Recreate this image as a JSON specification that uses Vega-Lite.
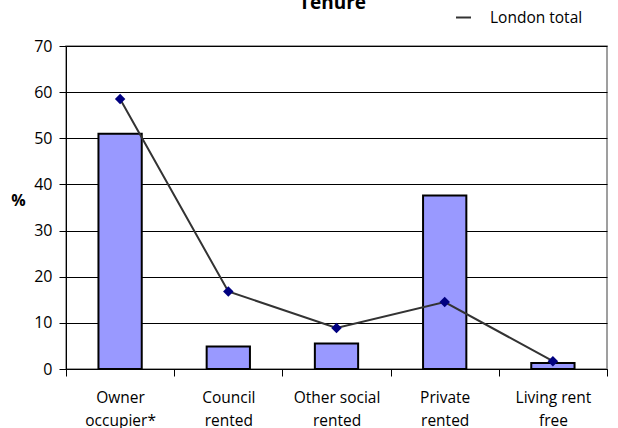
{
  "$schema": "https://vega.github.io/schema/vega-lite/v6.json",
  "width": 541,
  "height": 323,
  "autosize": {"type": "none"},
  "padding": {"left": 66, "top": 46, "right": 11, "bottom": 59},
  "background": "white",
  "title": {"text": "Tenure", "fontSize": 19, "fontWeight": "bold", "font": "Open Sans", "color": "black", "anchor": "middle", "baseline": "top", "offset": 0, "dy": 4, "dx": -4},
  "config": {
    "font": "Open Sans",
    "view": {"stroke": "#808080", "strokeWidth": 1.5},
    "axis": {"labelColor": "black", "labelFont": "Open Sans", "domainColor": "black", "tickColor": "black", "titleColor": "black"}
  },
  "data": {"values": [
    {"tenure": "Owner occupier*", "pct": 51.0, "london": 58.5},
    {"tenure": "Council rented", "pct": 4.9, "london": 16.8},
    {"tenure": "Other social rented", "pct": 5.5, "london": 8.9},
    {"tenure": "Private rented", "pct": 37.6, "london": 14.5},
    {"tenure": "Living rent free", "pct": 1.3, "london": 1.7}
  ]},
  "encoding": {
    "x": {"field": "tenure", "type": "nominal", "sort": null,
      "scale": {"paddingInner": 0, "paddingOuter": 0},
      "axis": {"title": null, "labelAngle": 0, "labelFontSize": 15.5, "labelPadding": 14, "labelLineHeight": 23,
        "tickBand": "extent", "tickSize": 7, "domainWidth": 1, "grid": false,
        "labelExpr": "!isValid(datum.value) ? '' : datum.value == 'Other social rented' ? ['Other social', 'rented'] : datum.value == 'Living rent free' ? ['Living rent', 'free'] : split(datum.value, ' ')"}}
  },
  "layer": [
    {"mark": {"type": "bar", "width": {"band": 0.4}, "fill": "#9999FF", "stroke": "black", "strokeWidth": 2},
     "encoding": {"y": {"field": "pct", "type": "quantitative",
       "scale": {"domain": [0, 70]},
       "axis": {"values": [0, 10, 20, 30, 40, 50, 60, 70], "grid": true, "gridColor": "black", "gridWidth": 1, "gridOpacity": 1,
         "labelFontSize": 16, "tickSize": 7, "labelPadding": 7,
         "title": "%", "titleAngle": 0, "titleFontSize": 16, "titleFontWeight": "bold", "titleX": -48, "titleY": 154, "titleAlign": "center", "titleBaseline": "middle"}}}},
    {"mark": {"type": "line", "strokeWidth": 2},
     "encoding": {"y": {"field": "london", "type": "quantitative"},
       "color": {"datum": "London total", "type": "nominal", "scale": {"range": ["#333333"]},
         "legend": {"title": null, "orient": "none", "legendX": 389, "legendY": -37, "symbolType": "stroke", "symbolSize": 225, "symbolStrokeWidth": 2, "labelOffset": 18, "labelFontSize": 15.5, "labelFont": "Open Sans", "labelColor": "black"}}}},
    {"mark": {"type": "point", "shape": "diamond", "filled": true, "color": "#000080", "size": 110, "opacity": 1},
     "encoding": {"y": {"field": "london", "type": "quantitative"}}}
  ]
}
